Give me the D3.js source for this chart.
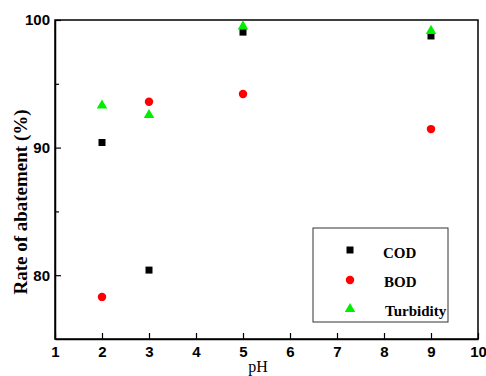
<!DOCTYPE html>
<html><head><meta charset="utf-8">
<script src="https://cdn.jsdelivr.net/npm/d3@7"></script>
<style>body{margin:0;background:#fff}svg{display:block}</style>
</head><body>
<script>
const pH = [2, 3, 5, 9];
const cod = [90.4, 80.4, 99.05, 98.75];
const bod = [78.3, 93.6, 94.2, 91.45];
const turbidity = [93.3, 92.55, 99.5, 99.15];
const xTicks = [1,2,3,4,5,6,7,8,9,10];
const yTicks = [80, 90, 100];
const yMinor = [85, 95];
const seriesNames = ["COD", "BOD", "Turbidity"];

const W = 486, H = 376;
const svg = d3.select("body").append("svg").attr("width", W).attr("height", H);
const x = d3.scaleLinear().domain([1, 10]).range([55, 478]);
const y = d3.scaleLinear().domain([75, 100]).range([339, 20]);

// frame
svg.append("rect").attr("x", 55).attr("y", 20).attr("width", 423).attr("height", 319)
  .attr("fill", "none").attr("stroke", "#000").attr("stroke-width", 1.5);

const xAxis = svg.append("g").attr("transform", "translate(0,339)")
  .call(d3.axisBottom(x).tickValues(xTicks).tickSizeInner(-6).tickSizeOuter(0).tickPadding(11).tickFormat(d3.format("d")));
const yAxis = svg.append("g").attr("transform", "translate(55,0)")
  .call(d3.axisLeft(y).tickValues(yTicks).tickSizeInner(-6).tickSizeOuter(0).tickPadding(5).tickFormat(d3.format("d")));
svg.append("g").attr("transform", "translate(55,0)")
  .call(d3.axisLeft(y).tickValues(yMinor).tickSizeInner(-4).tickSizeOuter(0).tickFormat(""))
  .select(".domain").remove();
svg.selectAll(".domain").attr("stroke-width", 1.5);
svg.selectAll(".tick line").attr("stroke-width", 1.2);
[xAxis, yAxis].forEach(a => a.selectAll("text")
  .attr("font-family", "Liberation Sans, Arial, sans-serif")
  .attr("font-weight", "bold").attr("font-size", 15).attr("fill", "#000"));
xAxis.selectAll("text").attr("dy", "0.45em");

// titles
svg.append("text").attr("x", 258).attr("y", 372).attr("text-anchor", "middle")
  .attr("font-family", "Liberation Serif, Times New Roman, serif").attr("font-size", 16).text("pH");
svg.append("text").attr("transform", "translate(27,202) rotate(-90)").attr("text-anchor", "middle")
  .attr("font-family", "Liberation Serif, Times New Roman, serif").attr("font-weight", "bold")
  .attr("font-size", 19).text("Rate of abatement (%)");

const sq = d3.symbol().type(d3.symbolSquare).size(49);
const ci = d3.symbol().type(d3.symbolCircle).size(56);
const tr = d3.symbol().type(d3.symbolTriangle).size(48);
const colors = ["#000000", "#ff0000", "#00ee00"];
const syms = [sq, ci, tr];
const data = [cod, bod, turbidity];

data.forEach((vals, i) => {
  svg.append("g").selectAll("path").data(vals).join("path")
    .attr("transform", (d, j) => `translate(${x(pH[j])},${y(d)})`)
    .attr("d", syms[i]()).attr("fill", colors[i]);
});

// legend
const lg = svg.append("g");
lg.append("rect").attr("x", 313).attr("y", 228).attr("width", 135).attr("height", 94)
  .attr("fill", "#fff").attr("stroke", "#333").attr("stroke-width", 1);
const ly = [250, 280, 309];
const lx = [383, 384, 385];
const lb = [258, 287, 316];
seriesNames.forEach((n, i) => {
  lg.append("path").attr("transform", `translate(350,${ly[i]})`).attr("d", syms[i]()).attr("fill", colors[i]);
  lg.append("text").attr("x", lx[i]).attr("y", lb[i])
    .attr("font-family", "Liberation Serif, Times New Roman, serif").attr("font-weight", "bold")
    .attr("font-size", 15).text(n);
});
</script>
</body></html>
